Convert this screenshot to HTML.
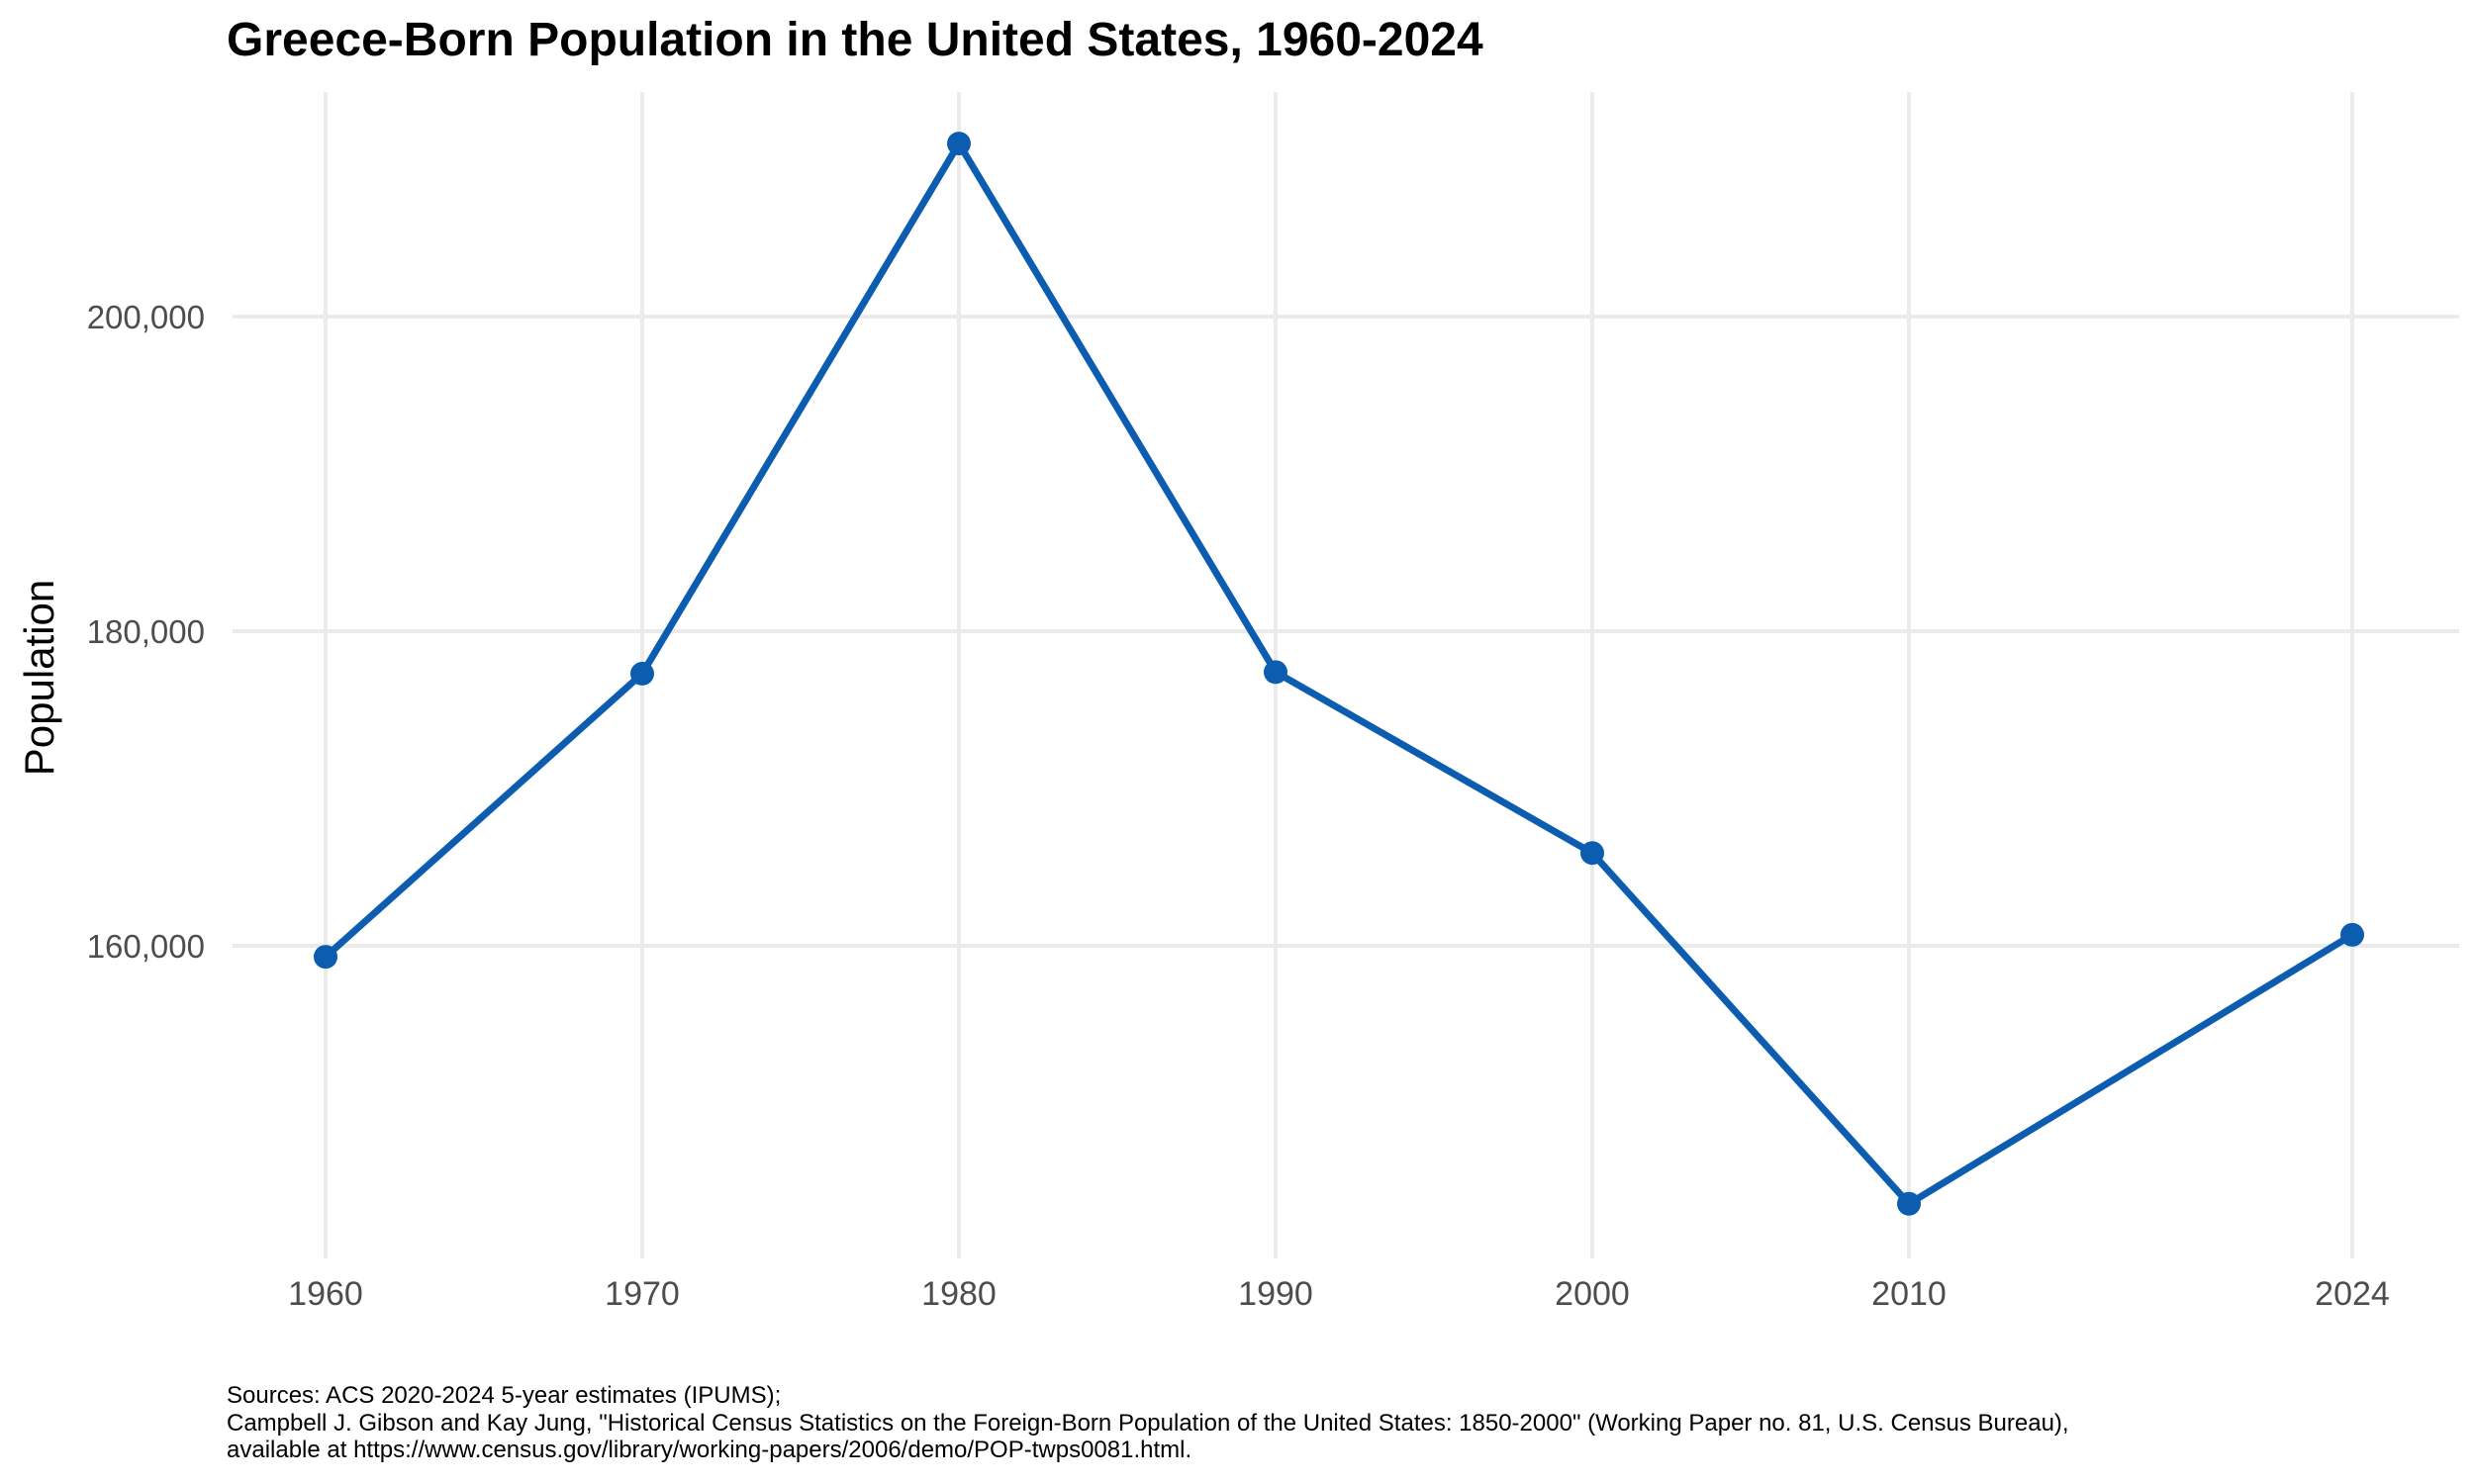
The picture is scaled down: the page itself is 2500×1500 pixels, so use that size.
<!DOCTYPE html>
<html><head><meta charset="utf-8"><style>
body{margin:0;background:#fff;}
svg{display:block;font-family:"Liberation Sans",Arial,sans-serif;}
</style></head><body>
<svg id="chart" width="2500" height="1500" viewBox="0 0 2500 1500">
<rect width="2500" height="1500" fill="#fff"/>
<text x="229" y="56" font-size="48" font-weight="bold" fill="#000">Greece-Born Population in the United States, 1960-2024</text>
<g id="grid"></g>
<g id="yticks"></g>
<g id="xticks"></g>
<text transform="translate(54,685) rotate(-90)" text-anchor="middle" font-size="42" fill="#000">Population</text>
<g id="series"></g>
<g font-size="24" fill="#000">
<text x="229" y="1418">Sources: ACS 2020-2024 5-year estimates (IPUMS);</text>
<text x="229" y="1446">Campbell J. Gibson and Kay Jung, "Historical Census Statistics on the Foreign-Born Population of the United States: 1850-2000" (Working Paper no. 81, U.S. Census Bureau),</text>
<text x="229" y="1473">available at https://www.census.gov/library/working-papers/2006/demo/POP-twps0081.html.</text>
</g>
</svg>
<script>
const years = [1960, 1970, 1980, 1990, 2000, 2010, 2024];
const population = [159300, 177300, 211000, 177400, 165900, 143600, 160700];
const yTicks = [160000, 180000, 200000];
const yTickLabels = ["160,000", "180,000", "200,000"];
const xTickLabels = ["1960", "1970", "1980", "1990", "2000", "2010", "2024"];

const NS = "http://www.w3.org/2000/svg";
const X = yr => 329 + (yr - 1960) * 32.0;
const Y = v => 320 + (200000 - v) * 0.0159;
function mk(tag, attrs, parent){const e=document.createElementNS(NS,tag);for(const k in attrs)e.setAttribute(k,attrs[k]);parent.appendChild(e);return e;}
const grid=document.getElementById('grid'), yt=document.getElementById('yticks'), xt=document.getElementById('xticks'), ser=document.getElementById('series');
yTicks.forEach((v,i)=>{
  const l=mk('line',{x1:235,x2:2485,y1:Y(v),y2:Y(v),stroke:'#ebebeb','stroke-width':4},grid);
  
  
  const t=mk('text',{x:207,y:Y(v)+12,'text-anchor':'end','font-size':33,fill:'#4d4d4d'},yt);
  t.textContent=yTickLabels[i];
  
  
});
years.forEach((yr,i)=>{
  const l=mk('line',{x1:X(yr),x2:X(yr),y1:93,y2:1272,stroke:'#ebebeb','stroke-width':4},grid);
  
  
  const t=mk('text',{x:X(yr),y:1319,'text-anchor':'middle','font-size':34,fill:'#4d4d4d'},xt);
  t.textContent=xTickLabels[i];
  
  
});
const pts=years.map((yr,i)=>X(yr)+','+Y(population[i])).join(' ');
const pl=mk('polyline',{points:pts,fill:'none',stroke:'#0c5db0','stroke-width':7,'stroke-linejoin':'round'},ser);


years.forEach((yr,i)=>{
  const c=mk('circle',{cx:X(yr),cy:Y(population[i]),r:12,fill:'#0c5db0'},ser);
  
  
});
</script>
</body></html>
